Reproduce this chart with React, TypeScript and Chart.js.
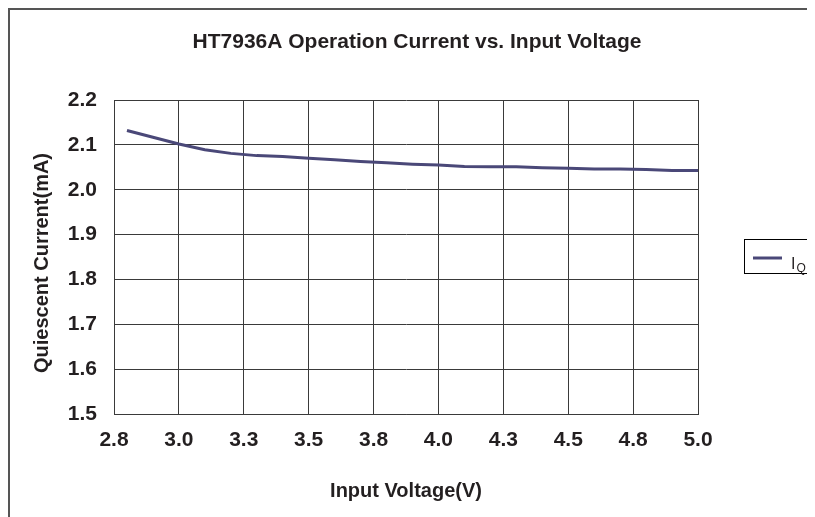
import React, { useEffect, useRef } from 'react';
import { Chart, registerables } from 'chart.js';

Chart.register(...registerables);

const chartTitle = 'HT7936A Operation Current vs. Input Voltage';
const xAxisTitle = 'Input Voltage(V)';
const yAxisTitle = 'Quiescent Current(mA)';
const seriesLabel = 'I';
const seriesSub = 'Q';

const voltages = [2.8, 2.9, 3.0, 3.1, 3.2, 3.3, 3.4, 3.5, 3.6, 3.7, 3.8, 3.9, 4.0, 4.1, 4.2, 4.3, 4.4, 4.5, 4.6, 4.7, 4.8, 4.9, 5.0];
const currents = [2.132, 2.117, 2.102, 2.089, 2.081, 2.076, 2.074, 2.070, 2.067, 2.063, 2.060, 2.057, 2.055, 2.052, 2.051, 2.051, 2.049, 2.048, 2.046, 2.046, 2.045, 2.043, 2.043];

const xTickValues = [2.75, 3.0, 3.25, 3.5, 3.75, 4.0, 4.25, 4.5, 4.75, 5.0];
const xTickLabels = ['2.8', '3.0', '3.3', '3.5', '3.8', '4.0', '4.3', '4.5', '4.8', '5.0'];
const yTickValues = [1.5, 1.6, 1.7, 1.8, 1.9, 2.0, 2.1, 2.2];
const yTickLabels = ['1.5', '1.6', '1.7', '1.8', '1.9', '2.0', '2.1', '2.2'];

const FONT = '"Liberation Sans", Arial, sans-serif';
const TEXT = '#231f20';
const LINE = '#4a4878';
const GRID = '#3a3a3a';

const decor = {
  id: 'decor',
  beforeDraw(chart: any) {
    const ctx = chart.ctx;
    ctx.save();
    ctx.fillStyle = '#ffffff';
    ctx.fillRect(0, 0, chart.width, chart.height);
    ctx.restore();
  },
  afterDraw(chart: any) {
    const ctx = chart.ctx;
    const { top, bottom } = chart.chartArea;
    ctx.save();
    // outer frame (left and top edges visible)
    ctx.strokeStyle = '#555555';
    ctx.lineWidth = 2;
    ctx.beginPath();
    ctx.moveTo(1, chart.height);
    ctx.lineTo(1, 1);
    ctx.lineTo(chart.width, 1);
    ctx.stroke();

    ctx.fillStyle = TEXT;
    ctx.textAlign = 'center';
    ctx.textBaseline = 'middle';
    ctx.font = `bold 21px ${FONT}`;
    ctx.fillText(chartTitle, 409, 34);
    ctx.font = `bold 20px ${FONT}`;
    ctx.fillText(xAxisTitle, 398, 483);

    ctx.save();
    ctx.translate(34, (top + bottom) / 2 + 6);
    ctx.rotate(-Math.PI / 2);
    ctx.fillText(yAxisTitle, 0, 0);
    ctx.restore();

    // legend box
    ctx.strokeStyle = '#000000';
    ctx.lineWidth = 1;
    ctx.strokeRect(736.5, 231.5, 90, 34);
    ctx.strokeStyle = LINE;
    ctx.lineWidth = 3;
    ctx.beginPath();
    ctx.moveTo(745, 250);
    ctx.lineTo(774, 250);
    ctx.stroke();
    ctx.fillStyle = TEXT;
    ctx.textAlign = 'left';
    ctx.textBaseline = 'alphabetic';
    ctx.font = `16px ${FONT}`;
    ctx.fillText(seriesLabel, 783, 261);
    const w = ctx.measureText(seriesLabel).width;
    ctx.font = `12px ${FONT}`;
    ctx.fillText(seriesSub, 783 + w + 1, 264);
    ctx.restore();
  },
};

export default function App() {
  const ref = useRef<HTMLCanvasElement>(null);
  useEffect(() => {
    document.body.style.overflow = 'hidden';
    const canvas = ref.current!;
    const chart = new Chart(canvas, {
      type: 'line',
      data: {
        datasets: [
          {
            label: seriesLabel + seriesSub,
            data: voltages.map((v, i) => ({ x: v, y: currents[i] })),
            borderColor: LINE,
            borderWidth: 3,
            pointRadius: 0,
            tension: 0,
            fill: false,
          },
        ],
      },
      options: {
        responsive: false,
        animation: false,
        events: [],
        layout: { padding: { left: 0, top: 92, right: 117, bottom: 0 } },
        plugins: {
          legend: { display: false },
          title: { display: false },
          tooltip: { enabled: false },
        },
        scales: {
          x: {
            type: 'linear',
            min: 2.75,
            max: 5.0,
            afterBuildTicks: (scale: any) => {
              scale.ticks = xTickValues.map((v) => ({ value: v }));
            },
            afterFit: (scale: any) => {
              scale.height = 103;
            },
            ticks: {
              callback: (_v: any, i: number) => xTickLabels[i],
              font: { family: FONT, size: 21, weight: 'bold' },
              color: TEXT,
              padding: 14,
              maxRotation: 0,
              autoSkip: false,
            },
            grid: { color: GRID, lineWidth: 1, drawTicks: false },
            border: { display: true, color: GRID, width: 1 },
          },
          y: {
            type: 'linear',
            min: 1.5,
            max: 2.2,
            afterBuildTicks: (scale: any) => {
              scale.ticks = yTickValues.map((v) => ({ value: v }));
            },
            afterFit: (scale: any) => {
              scale.width = 106;
            },
            ticks: {
              callback: (_v: any, i: number) => yTickLabels[i],
              font: { family: FONT, size: 21, weight: 'bold' },
              color: TEXT,
              padding: 17,
              autoSkip: false,
            },
            grid: { color: GRID, lineWidth: 1, drawTicks: false },
            border: { display: true, color: GRID, width: 1 },
          },
        },
      },
      plugins: [decor],
    } as any);
    return () => chart.destroy();
  }, []);
  return (
    <div style={{ width: 807, height: 509 }}>
      <canvas ref={ref} width={807} height={509} style={{ display: 'block', width: 807, height: 509 }} />
    </div>
  );
}
